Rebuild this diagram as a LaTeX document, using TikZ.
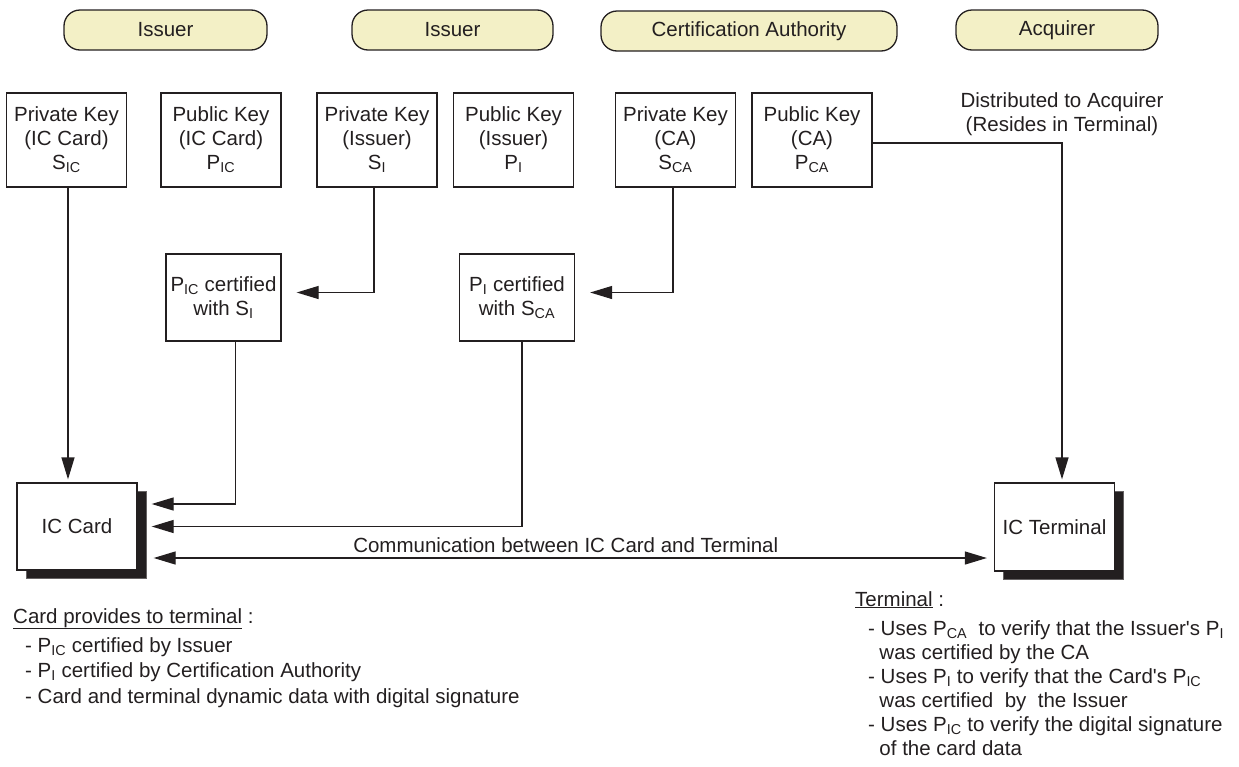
\documentclass[tikz,border=0pt]{standalone}
\usepackage{fontspec}
\setmainfont{Liberation Sans}
\usepackage{tikz}
\usetikzlibrary{arrows.meta,shadows,positioning}
\definecolor{figInk}{HTML}{231F20}
\definecolor{figPill}{HTML}{F3F0C6}
\newcommand{\diagfont}{\fontsize{20.5}{24}\selectfont}

\begin{document}
\begin{tikzpicture}[
  x=1pt, y=-1pt,
  every node/.style={font=\diagfont, text=figInk},
  party/.style={rectangle, rounded corners=16pt, draw=figInk, line width=1.3pt, fill=figPill,
    minimum height=40pt, inner sep=0pt},
  keybox/.style={rectangle, draw=figInk, line width=1.3pt, minimum width=120pt, minimum height=94pt,
    align=center, inner sep=0pt},
  certbox/.style={rectangle, draw=figInk, line width=1.3pt, minimum width=115pt, minimum height=87pt,
    align=center, inner sep=0pt},
  device/.style={rectangle, draw=figInk, line width=1.3pt, fill=white, minimum width=120pt,
    minimum height=87pt, inner sep=0pt,
    copy shadow={shadow xshift=9pt, shadow yshift=-8pt, fill=figInk, draw=figInk!70, line width=1pt}},
  note/.style={align=left, inner sep=0pt},
  arrow/.style={-{Triangle[length=22pt, width=13pt]}, line width=1.3pt, figInk},
  twoway/.style={{Triangle[length=22pt, width=13pt]}-{Triangle[length=22pt, width=13pt]}, line width=1.3pt, figInk},
]
\useasboundingbox (0,0) rectangle (1239,766);

% Parties
\node[party, minimum width=203pt] (issuerA) at (165.5,30) {Issuer};
\node[party, minimum width=201pt] (issuerB) at (452.5,30) {Issuer};
\node[party, minimum width=296pt] (certAuth) at (749,31) {Certification Authority};
\node[party, minimum width=202pt] (acquirer) at (1057,30) {Acquirer};

% Key pairs
\node[keybox] (sigIC) at (66.5,140) {Private Key\\(IC Card)\\S\textsubscript{IC}};
\node[keybox] (pubIC) at (221,140) {Public Key\\(IC Card)\\P\textsubscript{IC}};
\node[keybox] (sigI) at (377,140) {Private Key\\(Issuer)\\S\textsubscript{I}};
\node[keybox] (pubI) at (513.5,140) {Public Key\\(Issuer)\\P\textsubscript{I}};
\node[keybox] (sigCA) at (675.5,140) {Private Key\\(CA)\\S\textsubscript{CA}};
\node[keybox] (pubCA) at (812,140) {Public Key\\(CA)\\P\textsubscript{CA}};
\node[align=center] (distrib) at (1062,114) {Distributed to Acquirer\\(Resides in Terminal)};

% Certificates
\node[certbox] (pcIC) at (223.5,297.5) {P\textsubscript{IC} certified\\with S\textsubscript{I}};
\node[certbox] (pcI) at (517,297.5) {P\textsubscript{I} certified\\with S\textsubscript{CA}};

% Devices
\node[device] (card) at (77,526.5) {IC Card};
\node[device, minimum height=88pt] (term) at (1054.5,527) {IC Terminal};

% Connectors
\draw[arrow, shorten >=15pt] ([xshift=-3pt]sigI.south) |- ([yshift=5pt]pcIC.east);
\draw[arrow, shorten >=15pt] ([xshift=-2.5pt]sigCA.south) |- ([yshift=5pt]pcI.east);
\draw[arrow, shorten >=3pt] ([xshift=1.5pt]sigIC.south) -- ([xshift=1.5pt]sigIC.south |- card.north);
\draw[arrow, shorten >=14pt] ([xshift=12pt]pcIC.south) |- ([yshift=22.5pt]card.east);
\draw[arrow, shorten >=14pt] ([xshift=5pt]pcI.south) |- (card.east);
\draw[arrow, shorten >=3pt] ([yshift=-3pt]pubCA.east) -| (distrib.south |- term.north);
\draw[twoway, shorten <=16pt, shorten >=7pt] ([yshift=-31.5pt]card.east) -- ([yshift=-31.5pt]card.east -| term.west)
  node[midway, above=1pt] (commLabel) {Communication between IC Card and Terminal};

% Notes
\node[note, anchor=base west] (cardHead) at (13,623) {\underline{Card provides to terminal} :};
\node[note, anchor=base west, font=\fontsize{20.5}{25.5}\selectfont] (cardList) at (25,703)
  {- P\textsubscript{IC} certified by Issuer\\
   - P\textsubscript{I} certified by Certification Authority\\
   - Card and terminal dynamic data with digital signature};
\node[note, anchor=base west] (termHead) at (855,606) {\underline{Terminal} :};
\node[note, anchor=base west] (termList) at (868,755)
  {- Uses P\textsubscript{CA}\ \ to verify that the Issuer\textquotesingle s P\textsubscript{I}\\
   \hspace*{0.55em}was certified by the CA\\
   - Uses P\textsubscript{I} to verify that the Card\textquotesingle s P\textsubscript{IC}\\
   \hspace*{0.55em}was certified\ \ by\ \ the Issuer\\
   - Uses P\textsubscript{IC} to verify the digital signature\\
   \hspace*{0.55em}of the card data};
\end{tikzpicture}
\end{document}
